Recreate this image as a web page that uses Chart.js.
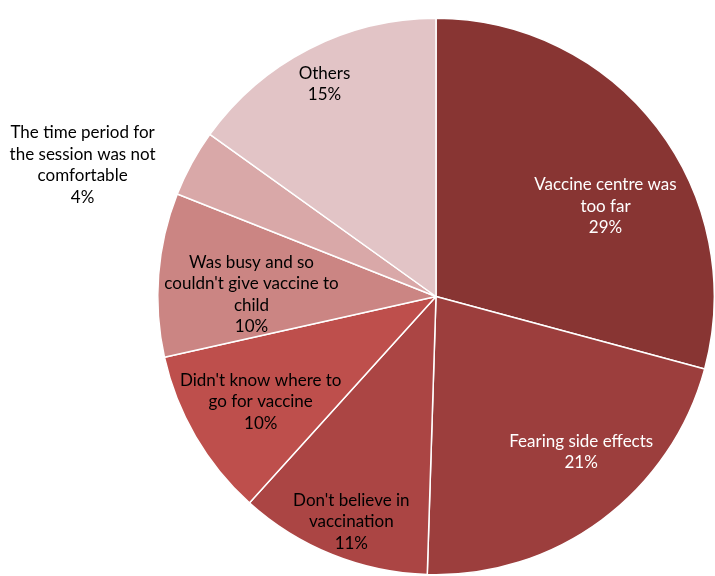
<!DOCTYPE html>
<html>
<head>
<meta charset="utf-8">
<script src="https://cdn.jsdelivr.net/npm/chart.js@4"></script>
<style>
  html, body { margin: 0; padding: 0; background: #ffffff; overflow: hidden; }
  #wrap { position: relative; width: 715px; height: 576px; }
</style>
</head>
<body>
<div id="wrap"><canvas id="pieChart"></canvas></div>
<script>
// reasons for not vaccinating (share of respondents, %)
const reasons = [
    ['Vaccine centre was', 'too far'],
    ['Fearing side effects'],
    ["Don't believe in", 'vaccination'],
    ["Didn't know where to", 'go for vaccine'],
    ['Was busy and so', "couldn't give vaccine to", 'child'],
    ['The time period for', 'the session was not', 'comfortable'],
    ['Others']
];
const shares = [29.2, 21.3, 11.2, 9.8, 9.5, 3.9, 15.1];

const sliceColors = ['#883533', '#9c3e3d', '#ab4544', '#be4f4c', '#cb8583', '#d9a8a8', '#e2c4c6'];
const textColors = ['#ffffff', '#ffffff', '#000000', '#000000', '#000000', '#000000', '#000000'];
// label anchor: angle in degrees clockwise from top, distance as a fraction of the radius
const labelPlace = [
    { angle: 62, dist: 0.69 },
    { angle: 137, dist: 0.765 },
    { angle: 200.6, dist: 0.865 },
    { angle: 239, dist: 0.735 },
    { angle: 270.6, dist: 0.663 },
    { angle: 290.4, dist: 1.355 },
    { angle: 332.3, dist: 0.862 }
];

const FONT = '17px "Lato", "Open Sans", sans-serif';
const LINE_H = 21.5;

const sliceLabels = {
    id: 'sliceLabels',
    afterDatasetsDraw(chart) {
        const c = chart.ctx;
        const total = shares.reduce((a, b) => a + b, 0);
        const arcs = chart.getDatasetMeta(0).data;
        c.save();
        c.font = FONT;
        c.textAlign = 'center';
        c.textBaseline = 'middle';
        arcs.forEach((arc, i) => {
            const p = labelPlace[i];
            const a = p.angle * Math.PI / 180;
            const cx = arc.x + Math.sin(a) * arc.outerRadius * p.dist;
            const cy = arc.y - Math.cos(a) * arc.outerRadius * p.dist;
            const lines = reasons[i].concat([Math.round(shares[i] / total * 100) + '%']);
            const top = cy - (lines.length - 1) * LINE_H / 2;
            c.fillStyle = textColors[i];
            lines.forEach((ln, k) => c.fillText(ln, cx, top + k * LINE_H));
        });
        c.restore();
    }
};

const ctx = document.getElementById('pieChart').getContext('2d');
new Chart(ctx, {
    type: 'pie',
    data: {
        labels: reasons.map(r => r.join(' ')),
        datasets: [{
            data: shares,
            backgroundColor: sliceColors,
            borderColor: '#ffffff',
            borderWidth: 1.5
        }]
    },
    options: {
        responsive: true,
        maintainAspectRatio: false,
        animation: false,
        layout: { padding: { left: 157, top: 17, right: 0, bottom: 0 } },
        plugins: {
            legend: { display: false },
            tooltip: { enabled: false }
        }
    },
    plugins: [sliceLabels]
});
</script>
</body>
</html>
